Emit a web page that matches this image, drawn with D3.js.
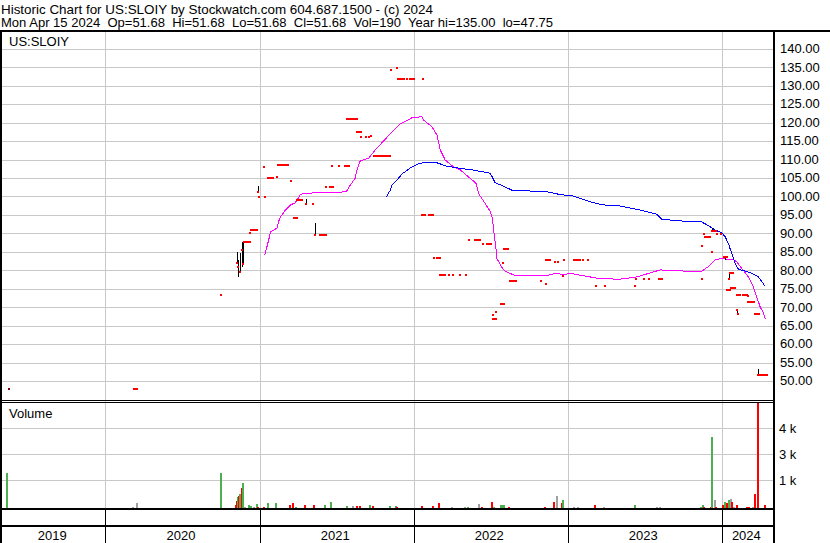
<!DOCTYPE html>
<html><head><meta charset="utf-8">
<script src="https://cdn.jsdelivr.net/npm/d3@7"></script>
<style>
body{margin:0;background:#fff;}
svg{display:block;font-family:Arial,"Liberation Sans",sans-serif;}
</style>
</head><body>
<svg id="chart" width="830" height="543"></svg>
<script>
// ---------------- DATA ----------------
const headerLine1 = "Historic Chart for US:SLOIY by Stockwatch.com 604.687.1500 - (c) 2024";
const headerLine2 = "Mon Apr 15 2024  Op=51.68  Hi=51.68  Lo=51.68  Cl=51.68  Vol=190  Year hi=135.00  lo=47.75";
const symbolLabel = "US:SLOIY";
const volumeLabel = "Volume";

const yearLabels = [2019, 2020, 2021, 2022, 2023, 2024];
const priceTicks = [50,55,60,65,70,75,80,85,90,95,100,105,110,115,120,125,130,135,140];
const volTickValues = [1410, 2670, 3940];
const volTickLabels = ["1 k", "3 k", "4 k"];

// daily closes (runs of equal closes), dates as decimal years
const tradeStart = [2019.373,2020.186,2020.751,2020.851,2020.861,2020.874,2020.885,2020.894,2020.900,2020.935,2020.946,2020.986,2020.997,2021.036,2021.030,2021.056,2021.112,2021.121,2021.149,2021.181,2021.205,2021.220,2021.242,2021.298,2021.346,2021.359,2021.393,2021.430,2021.454,2021.469,2021.517,2021.556,2021.569,2021.633,2021.659,2021.692,2021.707,2021.722,2021.739,2021.774,2021.789,2021.854,2021.891,2021.895,2021.956,2021.973,2022.060,2022.055,2022.101,2022.129,2022.153,2022.168,2022.228,2022.254,2022.302,2022.339,2022.358,2022.401,2022.432,2022.449,2022.479,2022.514,2022.516,2022.535,2022.566,2022.581,2022.587,2022.622,2022.826,2022.858,2022.860,2022.916,2022.936,2022.968,2022.975,2023.044,2023.102,2023.131,2023.182,2023.241,2023.437,2023.444,2023.494,2023.526,2023.595,2023.870,2023.870,2023.883,2023.892,2023.937,2023.939,2023.970,2023.996,2024.017,2024.046,2024.052,2024.036,2024.062,2024.088,2024.098,2024.106,2024.101,2024.140,2024.169,2024.173,2024.218,2024.238];
const tradeEnd   = [2019.373,2020.208,2020.751,2020.851,2020.861,2020.874,2020.885,2020.894,2020.939,2020.935,2020.984,2020.986,2020.997,2021.036,2021.030,2021.086,2021.112,2021.145,2021.171,2021.181,2021.205,2021.242,2021.275,2021.298,2021.346,2021.359,2021.430,2021.430,2021.476,2021.469,2021.517,2021.579,2021.631,2021.657,2021.659,2021.692,2021.707,2021.722,2021.765,2021.774,2021.848,2021.854,2021.891,2021.938,2021.956,2021.999,2022.060,2022.075,2022.127,2022.129,2022.172,2022.204,2022.228,2022.254,2022.302,2022.339,2022.358,2022.419,2022.432,2022.449,2022.501,2022.535,2022.516,2022.535,2022.587,2022.581,2022.613,2022.663,2022.826,2022.858,2022.884,2022.916,2022.936,2022.968,2022.975,2023.079,2023.102,2023.131,2023.182,2023.241,2023.437,2023.444,2023.494,2023.526,2023.615,2023.870,2023.870,2023.883,2023.922,2023.937,2023.961,2023.970,2023.996,2024.036,2024.046,2024.072,2024.054,2024.078,2024.088,2024.098,2024.106,2024.119,2024.162,2024.169,2024.212,2024.240,2024.292];
const tradeClose = [47.9,47.9,73.3,81.9,80.8,79.6,85.5,81.7,87.7,90.1,90.9,101.2,99.9,99.9,108.0,105.1,105.2,108.5,108.5,108.5,104.3,94.2,99.0,97.9,97.9,89.5,89.5,102.6,102.6,108.2,108.2,108.2,121.0,117.5,116.1,116.1,116.1,116.4,110.9,110.9,110.9,134.2,134.9,131.8,131.8,131.8,131.8,95.0,95.0,83.3,83.3,78.7,78.7,78.7,78.7,78.7,88.2,88.2,88.2,87.2,87.2,66.8,67.9,68.7,70.9,82.0,85.8,77.2,77.2,76.3,82.9,82.2,82.2,78.4,82.9,82.8,82.8,82.8,75.7,75.7,75.7,77.6,77.6,77.6,77.6,77.6,86.6,89.8,89.1,85.0,90.7,89.8,89.8,83.5,77.7,79.3,74.6,75.2,75.2,69.2,68.1,73.3,73.3,73.0,71.5,68.1,51.68];

// high-low ranges
const rangeDate = [2019.373,2020.850,2020.861,2020.874,2020.885,2020.894,2020.986,2021.112,2021.298,2021.359,2023.939,2024.019,2024.049,2024.098,2024.238];
const rangeHigh = [48.2,85.0,82.8,84.6,87.7,88.0,102.8,105.5,99.3,92.7,91.4,84.0,79.5,69.5,53.2];
const rangeLow  = [47.75,81.8,78.2,79.2,80.9,81.9,101.1,104.9,97.9,89.5,90.7,82.8,77.6,68.1,51.4];

// short moving average (magenta)
const maShortDate = [2021.032,2021.058,2021.069,2021.112,2021.129,2021.166,2021.199,2021.231,2021.263,2021.285,2021.469,2021.562,2021.588,2021.620,2021.631,2021.653,2021.707,2021.750,2021.815,2021.859,2021.912,2021.988,2022.053,2022.064,2022.118,2022.151,2022.172,2022.204,2022.258,2022.302,2022.367,2022.406,2022.421,2022.464,2022.497,2022.511,2022.524,2022.534,2022.540,2022.561,2022.583,2022.615,2022.659,2022.864,2022.929,2022.972,2023.016,2023.059,2023.145,2023.210,2023.340,2023.449,2023.600,2023.751,2023.872,2023.913,2023.957,2024.000,2024.022,2024.043,2024.075,2024.097,2024.130,2024.173,2024.205,2024.227,2024.249,2024.266,2024.281,2024.288];
const maShortValue = [84.0,88.2,90.4,91.4,94.1,96.3,97.7,98.3,100.4,100.9,101.0,101.3,103.1,104.9,107.2,109.7,110.3,112.6,115.5,117.5,119.6,121.3,121.6,120.7,118.9,116.6,112.6,109.9,108.0,107.2,104.9,103.5,100.8,98.1,95.9,94.1,89.1,85.9,83.2,81.6,80.1,79.3,78.6,78.6,79.2,78.8,79.2,78.8,78.2,77.7,77.6,78.2,80.1,79.8,79.8,81.0,82.8,83.2,83.2,82.8,83.0,82.3,80.5,78.2,75.5,72.8,70.1,68.8,67.0,66.7];

// long moving average (blue)
const maLongDate = [2021.822,2021.848,2021.859,2021.891,2021.924,2021.988,2022.042,2022.064,2022.151,2022.215,2022.302,2022.378,2022.497,2022.529,2022.583,2022.637,2022.735,2022.864,2022.951,2023.037,2023.102,2023.167,2023.232,2023.340,2023.470,2023.578,2023.611,2023.816,2023.870,2023.913,2023.957,2024.000,2024.022,2024.043,2024.054,2024.065,2024.086,2024.108,2024.151,2024.195,2024.238,2024.260,2024.281];
const maLongValue = [99.9,101.7,103.1,104.4,106.1,108.0,109.0,109.1,109.1,108.2,107.6,107.2,106.3,103.7,102.8,101.7,101.5,101.3,100.5,100.1,99.2,98.3,97.7,97.4,96.3,95.2,93.8,93.1,93.1,92.1,90.9,90.2,89.1,87.3,85.9,84.6,81.9,80.3,79.8,79.2,78.2,76.9,75.7];

// volume (u = up, d = down, n = unchanged)
const volDate = [2019.364,2020.182,2020.204,2020.751,2020.846,2020.853,2020.859,2020.865,2020.874,2020.885,2020.892,2020.907,2020.932,2020.943,2020.960,2020.982,2020.991,2021.025,2021.054,2021.069,2021.108,2021.116,2021.149,2021.177,2021.199,2021.216,2021.238,2021.257,2021.296,2021.340,2021.354,2021.393,2021.426,2021.447,2021.465,2021.508,2021.556,2021.567,2021.605,2021.631,2021.653,2021.685,2021.707,2021.718,2021.735,2021.750,2021.770,2021.789,2021.809,2021.835,2021.848,2021.887,2021.891,2021.912,2021.956,2021.977,2022.053,2022.107,2022.125,2022.155,2022.166,2022.185,2022.224,2022.248,2022.293,2022.334,2022.352,2022.399,2022.425,2022.443,2022.475,2022.509,2022.524,2022.540,2022.565,2022.577,2022.589,2022.620,2022.641,2022.821,2022.853,2022.864,2022.910,2022.929,2022.962,2022.968,2023.042,2023.066,2023.102,2023.124,2023.178,2023.236,2023.437,2023.491,2023.520,2023.578,2023.600,2023.621,2023.866,2023.877,2023.885,2023.903,2023.929,2023.935,2023.955,2023.963,2023.989,2024.010,2024.021,2024.032,2024.047,2024.058,2024.065,2024.080,2024.097,2024.138,2024.162,2024.175,2024.184,2024.205,2024.216,2024.236,2024.249,2024.263,2024.281];
const volValue = [1760,110,300,1760,210,400,610,640,740,1040,1280,126,210,160,100,260,126,126,320,80,320,80,60,60,210,320,126,60,210,60,210,60,210,60,355,60,60,160,160,160,160,60,60,210,160,60,60,60,60,60,160,160,100,60,60,60,146,60,160,60,306,60,60,110,60,110,110,60,260,110,60,355,110,60,210,210,210,110,60,60,110,60,355,646,290,450,110,110,60,60,210,110,210,60,60,110,110,60,110,210,110,60,110,3510,450,110,60,210,355,290,450,500,355,110,210,60,100,100,60,110,744,5180,60,60,210];
const volDir = ["u","n","n","u","d","d","u","d","u","d","u","n","u","u","n","u","d","d","u","n","u","u","n","n","d","d","u","n","d","n","d","n","u","n","u","n","n","u","n","d","d","n","n","u","d","n","n","n","n","n","u","u","d","n","n","n","d","n","d","n","d","n","n","n","n","n","u","n","n","d","n","d","u","n","u","u","u","d","n","n","d","u","d","n","d","u","n","n","n","n","d","n","u","n","n","n","n","n","u","u","d","n","d","u","n","d","n","d","u","d","u","n","d","n","d","n","d","d","n","n","d","d","n","n","d"];

// ---------------- DRAWING ----------------
const svg = d3.select("#chart").attr("shape-rendering", "crispEdges");
const plotL = 2, plotR = 774;
const gridColor = "#c8c8c8";
const colors = {u: "#4caf50", d: "#ff0000", n: "#a0a0a0"};

function toDate(t) {
  const yr = Math.floor(t);
  const a = Date.UTC(yr, 0, 1), b = Date.UTC(yr + 1, 0, 1);
  return new Date(a + (t - yr) * (b - a));
}

const x = d3.scaleUtc()
  .domain([new Date(Date.UTC(2019, 4, 1)), new Date(Date.UTC(2024, 4, 4))])
  .range([plotL, plotR]);
const y = d3.scaleLinear().domain([45, 145]).range([399.5, 30.3]);
const yv = d3.scaleLinear().domain([0, 5200]).range([509.3, 402.3]);

svg.append("rect").attr("width", 830).attr("height", 543).attr("fill", "#fff");

// header
svg.append("text").attr("x", 1).attr("y", 13.5).attr("font-size", 13).attr("fill", "#000")
  .attr("xml:space", "preserve").style("white-space", "pre")
  .attr("textLength", 432).attr("lengthAdjust", "spacingAndGlyphs").text(headerLine1);
svg.append("text").attr("x", 1).attr("y", 26.5).attr("font-size", 13).attr("fill", "#000")
  .attr("xml:space", "preserve").style("white-space", "pre")
  .attr("textLength", 552).attr("lengthAdjust", "spacingAndGlyphs").text(headerLine2);

// year boundaries
const yearStarts = yearLabels.slice(1).map(yr => new Date(Date.UTC(yr, 0, 1)));

// price gridlines
svg.append("g").selectAll("line").data(priceTicks).join("line")
  .attr("x1", plotL).attr("x2", plotR)
  .attr("y1", d => Math.round(y(d)) + 0.5).attr("y2", d => Math.round(y(d)) + 0.5)
  .attr("stroke", gridColor);
// volume gridlines
svg.append("g").selectAll("line").data(volTickValues).join("line")
  .attr("x1", plotL).attr("x2", plotR)
  .attr("y1", d => Math.round(yv(d)) + 0.5).attr("y2", d => Math.round(yv(d)) + 0.5)
  .attr("stroke", gridColor);
// vertical year gridlines (price + volume panels)
svg.append("g").selectAll("line").data(yearStarts).join("line")
  .attr("x1", d => Math.round(x(d)) + 0.5).attr("x2", d => Math.round(x(d)) + 0.5)
  .attr("y1", 31).attr("y2", 509)
  .attr("stroke", gridColor);
// vertical year separators in date band
svg.append("g").selectAll("line").data(yearStarts).join("line")
  .attr("x1", d => Math.round(x(d)) + 0.5).attr("x2", d => Math.round(x(d)) + 0.5)
  .attr("y1", 509).attr("y2", 543)
  .attr("stroke", "#000");

// panel labels
svg.append("text").attr("x", 9).attr("y", 46).attr("font-size", 13).text(symbolLabel);
svg.append("text").attr("x", 9).attr("y", 418).attr("font-size", 13).text(volumeLabel);

// moving averages
const line = d3.line().x(d => x(toDate(d[0]))).y(d => y(d[1]));
svg.append("path").datum(d3.zip(maShortDate, maShortValue))
  .attr("d", line).attr("fill", "none").attr("stroke", "#ff00ff").attr("stroke-width", 1);
svg.append("path").datum(d3.zip(maLongDate, maLongValue))
  .attr("d", line).attr("fill", "none").attr("stroke", "#0000ff").attr("stroke-width", 1);

// high-low bars
svg.append("g").selectAll("rect").data(d3.range(rangeDate.length)).join("rect")
  .attr("x", i => Math.round(x(toDate(rangeDate[i]))))
  .attr("y", i => Math.round(y(rangeHigh[i])))
  .attr("width", 1)
  .attr("height", i => Math.max(1, Math.round(y(rangeLow[i])) - Math.round(y(rangeHigh[i]))))
  .attr("fill", "#000");

// closes
svg.append("g").selectAll("rect").data(d3.range(tradeStart.length)).join("rect")
  .attr("x", i => Math.round(x(toDate(tradeStart[i]))) - 1)
  .attr("y", i => Math.round(y(tradeClose[i])) - 1)
  .attr("width", i => Math.round(x(toDate(tradeEnd[i]))) - Math.round(x(toDate(tradeStart[i]))) + 2)
  .attr("height", 2)
  .attr("fill", (d, i) => i === 0 ? "#800000" : "#ff0000");

// volume bars
svg.append("g").selectAll("rect").data(d3.range(volDate.length)).join("rect")
  .attr("x", i => Math.round(x(toDate(volDate[i]))) - 1)
  .attr("y", i => Math.round(yv(volValue[i])))
  .attr("width", 2)
  .attr("height", i => Math.max(1, 509 - Math.round(yv(volValue[i]))))
  .attr("fill", i => colors[volDir[i]]);

// frame lines
const black = "#000";
svg.append("rect").attr("x", 0).attr("y", 30).attr("width", 830).attr("height", 2).attr("fill", black);
svg.append("rect").attr("x", 0).attr("y", 30).attr("width", 2).attr("height", 513).attr("fill", black);
svg.append("rect").attr("x", 773).attr("y", 30).attr("width", 2).attr("height", 513).attr("fill", black);
svg.append("rect").attr("x", 0).attr("y", 400).attr("width", 774).attr("height", 1).attr("fill", black);
svg.append("rect").attr("x", 0).attr("y", 402).attr("width", 774).attr("height", 1).attr("fill", black);
svg.append("rect").attr("x", 0).attr("y", 508).attr("width", 774).attr("height", 2).attr("fill", black);
svg.append("rect").attr("x", 0).attr("y", 525).attr("width", 774).attr("height", 2).attr("fill", black);

// right price axis labels
svg.append("g").selectAll("text").data(priceTicks).join("text")
  .attr("x", 780).attr("y", d => y(d) + 4.3)
  .attr("font-size", 13).attr("fill", "#000")
  .text(d => d3.format(".2f")(d));
// volume axis labels
svg.append("g").selectAll("text").data(volTickValues).join("text")
  .attr("x", 779).attr("y", d => yv(d) + 4.5)
  .attr("font-size", 13).attr("fill", "#000")
  .text((d, i) => volTickLabels[i]);

// year labels
const bounds = [x.range()[0]].concat(yearStarts.map(d => x(d)), [x.range()[1]]);
svg.append("g").selectAll("text").data(yearLabels).join("text")
  .attr("x", (d, i) => (bounds[i] + bounds[i + 1]) / 2 - 1.5)
  .attr("y", 539.5)
  .attr("text-anchor", "middle")
  .attr("font-size", 13).attr("fill", "#000")
  .text(d => d);
</script>
</body></html>
